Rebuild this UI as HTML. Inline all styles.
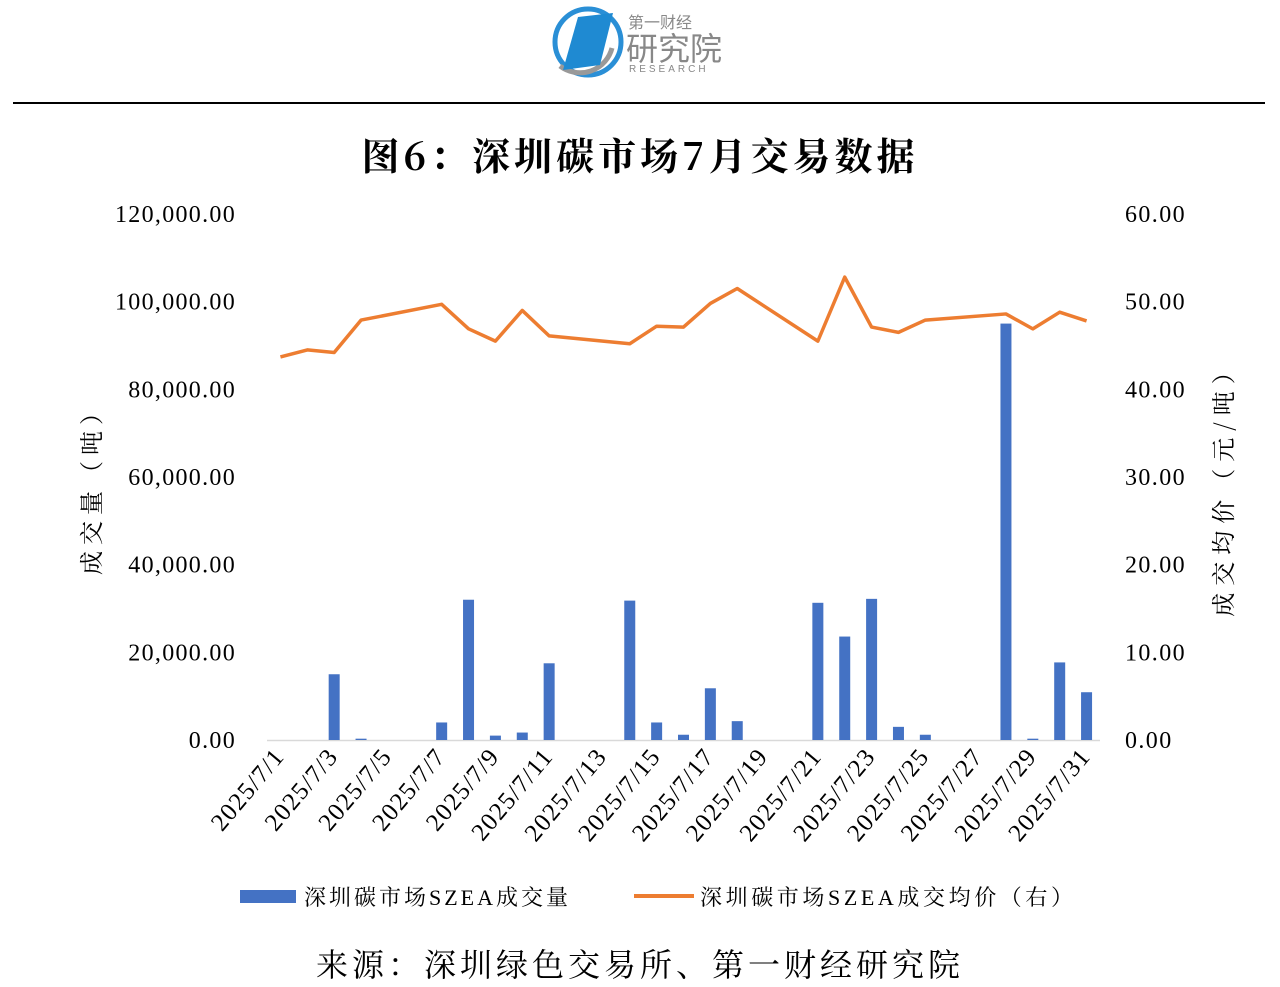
<!DOCTYPE html>
<html><head><meta charset="utf-8"><style>
body{margin:0;background:#fff;width:1280px;height:987px;overflow:hidden}
svg{display:block}
</style></head><body>
<svg id="s" width="1280" height="987" xmlns="http://www.w3.org/2000/svg" font-family="'Liberation Serif','Noto Serif CJK SC',serif">
<circle cx="588" cy="42" r="33" fill="none" stroke="#2a8fd6" stroke-width="5"/>
<path d="M612 48 A33 33 0 0 1 560 66" fill="none" stroke="#999" stroke-width="5"/>
<polygon points="578,17 613,13 600,65 563,70" fill="#1f8ad2"/>
<text x="628" y="28" font-size="16" fill="#888" font-family="'Noto Sans CJK SC',sans-serif">第一财经</text>
<text x="626" y="60" font-size="32" fill="#888" font-family="'Noto Sans CJK SC',sans-serif">研究院</text>
<text x="629" y="72" font-size="10" fill="#888" letter-spacing="3" font-family="'Liberation Sans',sans-serif">RESEARCH</text>
<line x1="13" y1="103" x2="1265" y2="103" stroke="#000" stroke-width="2"/>
<text x="640" y="170" text-anchor="middle" font-size="38" font-weight="bold" letter-spacing="4" fill="#000" font-family="'Noto Serif CJK SC',serif">图6：深圳碳市场7月交易数据</text>
<line x1="267" y1="740.5" x2="1100" y2="740.5" stroke="#d9d9d9" stroke-width="1.5"/>
<g id="g"></g>
<text transform="translate(100,485) rotate(-90)" text-anchor="middle" font-size="24" letter-spacing="6" fill="#000" font-family="'Noto Serif CJK SC',serif">成交量（吨）</text>
<text transform="translate(1232,485) rotate(-90)" text-anchor="middle" font-size="24" letter-spacing="7" fill="#000" font-family="'Noto Serif CJK SC',serif">成交均价（元/吨）</text>
<rect x="240" y="890" width="56" height="13" fill="#4472c4"/>
<text x="304" y="905" font-size="22" letter-spacing="3" fill="#000" font-family="'Liberation Serif','Noto Serif CJK SC',serif">深圳碳市场SZEA成交量</text>
<line x1="634" y1="896" x2="694" y2="896" stroke="#ed7d31" stroke-width="4"/>
<text x="700" y="905" font-size="22" letter-spacing="3.6" fill="#000" font-family="'Liberation Serif','Noto Serif CJK SC',serif">深圳碳市场SZEA成交均价（右）</text>
<text x="640" y="976" text-anchor="middle" font-size="32" letter-spacing="4" fill="#000" font-family="'Noto Serif CJK SC',serif">来源：深圳绿色交易所、第一财经研究院</text>
</svg>
<script>
var g=document.getElementById('g'),h='';
var y0=740,sc=526/120000,ps=526/60;
for(var i=0;i<=6;i++){var y=y0-i*87.67;
var l=i==0?'0.00':(i*20)+',000.00';
h+='<text x="236" y="'+(y+8)+'" text-anchor="end" font-size="24" letter-spacing="1.3">'+l+'</text>';
h+='<text x="1125" y="'+(y+8)+'" font-size="24" letter-spacing="1.4">'+(i*10).toFixed(2)+'</text>';}
var cw=833/31;function cx(d){return 267+(d-0.5)*cw;}
var bars={3:15000,4:300,7:4000,8:32000,9:1000,10:1700,11:17500,14:31800,15:4000,16:1200,17:11800,18:4300,21:31300,22:23600,23:32200,24:3000,25:1200,28:95000,29:300,30:17700,31:10900};
for(var d in bars){var v=bars[d];h+='<rect x="'+(cx(+d)-5.5)+'" y="'+(y0-v*sc)+'" width="11" height="'+(v*sc)+'" fill="#4472c4"/>';}
var pr=[[1,43.7],[2,44.5],[3,44.2],[4,47.9],[7,49.7],[8,46.9],[9,45.5],[10,49.0],[11,46.1],[14,45.2],[15,47.2],[16,47.1],[17,49.8],[18,51.5],[21,45.5],[22,52.8],[23,47.1],[24,46.5],[25,47.9],[28,48.6],[29,46.9],[30,48.8],[31,47.8]];
h+='<polyline fill="none" stroke="#ed7d31" stroke-width="3.5" stroke-linejoin="round" points="'+pr.map(function(p){return cx(p[0])+','+(y0-p[1]*ps);}).join(' ')+'"/>';
for(var d=1;d<=31;d+=2){h+='<text transform="translate('+(cx(d)+5)+',757) rotate(-50)" text-anchor="end" font-size="25" letter-spacing="1.2">2025/7/'+d+'</text>';}
g.innerHTML=h;
</script>
</body></html>
